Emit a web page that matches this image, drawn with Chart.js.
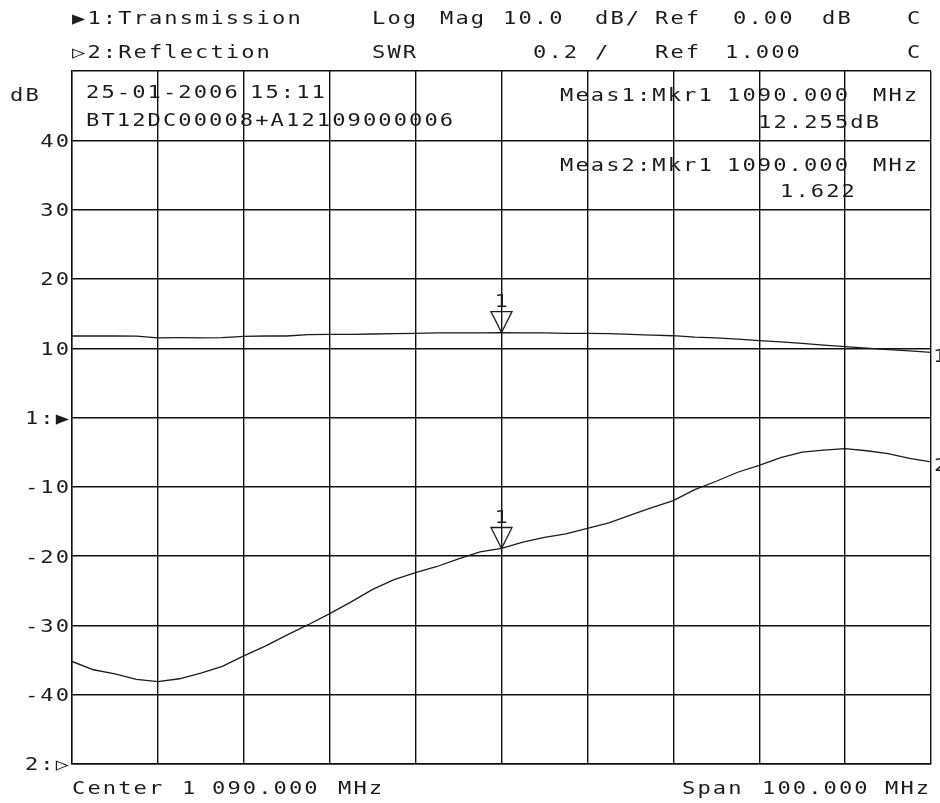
<!DOCTYPE html>
<html>
<head>
<meta charset="utf-8">
<script src="https://cdn.jsdelivr.net/npm/chart.js@4"></script>
<style>
  html, body { margin: 0; padding: 0; background: #fff; }
  #vna { display: block; }
</style>
</head>
<body>
<canvas id="vna" width="940" height="803"></canvas>
<script>
// Frequenz-Stützstellen (MHz), 2.5 MHz Raster über den Span
const freqMHz = [
  1040, 1042.5, 1045, 1047.5, 1050, 1052.5, 1055, 1057.5, 1060, 1062.5,
  1065, 1067.5, 1070, 1072.5, 1075, 1077.5, 1080, 1082.5, 1085, 1087.5,
  1090, 1092.5, 1095, 1097.5, 1100, 1102.5, 1105, 1107.5, 1110, 1112.5,
  1115, 1117.5, 1120, 1122.5, 1125, 1127.5, 1130, 1132.5, 1135, 1137.5, 1140
];

// Kanal 1: Transmission, Log Mag (dB)
const transmissionDb = [
  11.76, 11.76, 11.76, 11.74, 11.5, 11.52, 11.5, 11.52, 11.7, 11.76,
  11.76, 11.95, 12.0, 12.0, 12.05, 12.1, 12.15, 12.2, 12.2, 12.22,
  12.255, 12.2, 12.2, 12.15, 12.15, 12.1, 12.0, 11.9, 11.8, 11.6,
  11.5, 11.3, 11.1, 10.9, 10.7, 10.45, 10.23, 10.0, 9.8, 9.6, 9.4
];

// Kanal 2: Reflection, SWR
const reflectionSwr = [
  1.296, 1.272, 1.260, 1.244, 1.238, 1.246, 1.262, 1.282, 1.312, 1.340,
  1.372, 1.402, 1.434, 1.468, 1.504, 1.532, 1.552, 1.570, 1.592, 1.612,
  1.622, 1.640, 1.654, 1.664, 1.680, 1.696, 1.718, 1.740, 1.760, 1.792,
  1.816, 1.842, 1.862, 1.884, 1.900, 1.906, 1.910, 1.904, 1.896, 1.882, 1.872
];

// Y-Beschriftung links (Kanal 1 dB-Raster), Referenzpfeile bei 0 dB und unten
const yTickValues = [40, 30, 20, 10, 0, -10, -20, -30, -40, -50];
const yTickLabels = ["40", "30", "20", "10", "1:\u25B6", "-10", "-20", "-30", "-40", "2:\u25B7"];

// Marker 1
const markerFreq = 1090;
const markerTransmission = 12.255;
const markerSwr = 1.622;

const FONT = '17px "DejaVu Sans Mono", "Liberation Mono", monospace';
const INK = "#1c1c1c";
const STRETCH = 1.3;   // breite Plotter-Schrift
const SPACING = 1.6;   // Zeichenabstand vor der Streckung

// Texte wie auf dem Analysator-Bildschirm: [x, y-Mitte, Text]
const screenTexts = [
  [72, 20, "\u25B61:Transmission"], [372, 20, "Log"], [440, 20, "Mag"],
  [503, 20, "10.0"], [595, 20, "dB/"], [655, 20, "Ref"],
  [733, 20, "0.00"], [822, 20, "dB"], [907, 20, "C"],
  [72, 54, "\u25B72:Reflection"], [372, 54, "SWR"], [533, 54, "0.2"],
  [595, 54, "/"], [655, 54, "Ref"], [725, 54, "1.000"], [907, 54, "C"],
  [10, 97, "dB"],
  [86, 94, "25-01-2006"], [250, 94, "15:11"],
  [86, 122, "BT12DC00008+A12109000006"],
  [560, 97, "Meas1:Mkr1"], [727, 97, "1090.000"], [873, 97, "MHz"],
  [758, 124, "12.255dB"],
  [560, 167, "Meas2:Mkr1"], [727, 167, "1090.000"], [873, 167, "MHz"],
  [780, 193, "1.622"],
  [72, 790, "Center"], [182, 790, "1"], [212, 790, "090.000"], [338, 790, "MHz"],
  [682, 790, "Span"], [762, 790, "100.000"], [885, 790, "MHz"]
];

function setupText(ctx) {
  ctx.font = FONT;
  ctx.fillStyle = INK;
  ctx.textBaseline = "middle";
  ctx.textAlign = "left";
  ctx.letterSpacing = SPACING + "px";
}

function textWidth(ctx, t) {
  return (ctx.measureText(t).width - SPACING) * STRETCH;
}

function drawText(ctx, t, x, y) {
  ctx.save();
  ctx.translate(x, y);
  ctx.scale(STRETCH, 1);
  ctx.fillText(t, 0, 0);
  ctx.restore();
}

const screenTextPlugin = {
  id: "screenText",
  afterDraw(chart) {
    const { ctx, chartArea, scales: { y, swr } } = chart;
    ctx.save();
    setupText(ctx);
    screenTexts.forEach(([x, ty, t]) => drawText(ctx, t, x, ty));

    // y-Beschriftung rechtsbündig am Raster
    yTickValues.forEach((v, i) => {
      const t = yTickLabels[i];
      drawText(ctx, t, chartArea.left - 3 - textWidth(ctx, t), y.getPixelForValue(v) + 2);
    });

    // Spur-Kennungen am rechten Rand
    const last = freqMHz.length - 1;
    drawText(ctx, "1", chartArea.right + 2, y.getPixelForValue(transmissionDb[last]) + 5);
    drawText(ctx, "2", chartArea.right + 3, swr.getPixelForValue(reflectionSwr[last]) + 5);
    ctx.restore();
  },
};

const markerPlugin = {
  id: "markers",
  afterDatasetsDraw(chart) {
    const { ctx, scales: { x, y, swr } } = chart;
    const px = x.getPixelForValue(markerFreq);
    const tips = [y.getPixelForValue(markerTransmission), swr.getPixelForValue(markerSwr)];
    ctx.save();
    tips.forEach((py) => {
      ctx.beginPath();
      ctx.moveTo(px, py);
      ctx.lineTo(px - 10.5, py - 21);
      ctx.lineTo(px + 10.5, py - 21);
      ctx.closePath();
      ctx.lineWidth = 1.3;
      ctx.strokeStyle = INK;
      ctx.stroke();
      setupText(ctx);
      drawText(ctx, "1", px - 7, py - 30);
    });
    ctx.restore();
  },
};

const gridStyle = { color: "#111", lineWidth: 1.4, drawTicks: false };

new Chart(document.getElementById("vna"), {
  type: "line",
  data: {
    datasets: [
      {
        label: "1: Transmission",
        data: freqMHz.map((f, i) => ({ x: f, y: transmissionDb[i] })),
        yAxisID: "y",
        borderColor: INK,
        borderWidth: 1.3,
      },
      {
        label: "2: Reflection",
        data: freqMHz.map((f, i) => ({ x: f, y: reflectionSwr[i] })),
        yAxisID: "swr",
        borderColor: INK,
        borderWidth: 1.3,
      },
    ],
  },
  options: {
    responsive: false,
    animation: false,
    layout: { padding: { left: 72, top: 71, right: 9, bottom: 39 } },
    elements: { point: { radius: 0 }, line: { tension: 0 } },
    plugins: { legend: { display: false }, tooltip: { enabled: false } },
    scales: {
      x: {
        type: "linear",
        min: 1040,
        max: 1140,
        ticks: { display: false, stepSize: 10 },
        grid: gridStyle,
        border: { color: "#111", width: 1.4 },
      },
      y: {
        min: -50,
        max: 50,
        ticks: { display: false, stepSize: 10 },
        grid: gridStyle,
        border: { color: "#111", width: 1.4 },
      },
      swr: { min: 1, max: 3, display: false },
    },
  },
  plugins: [markerPlugin, screenTextPlugin],
});
</script>
</body>
</html>
